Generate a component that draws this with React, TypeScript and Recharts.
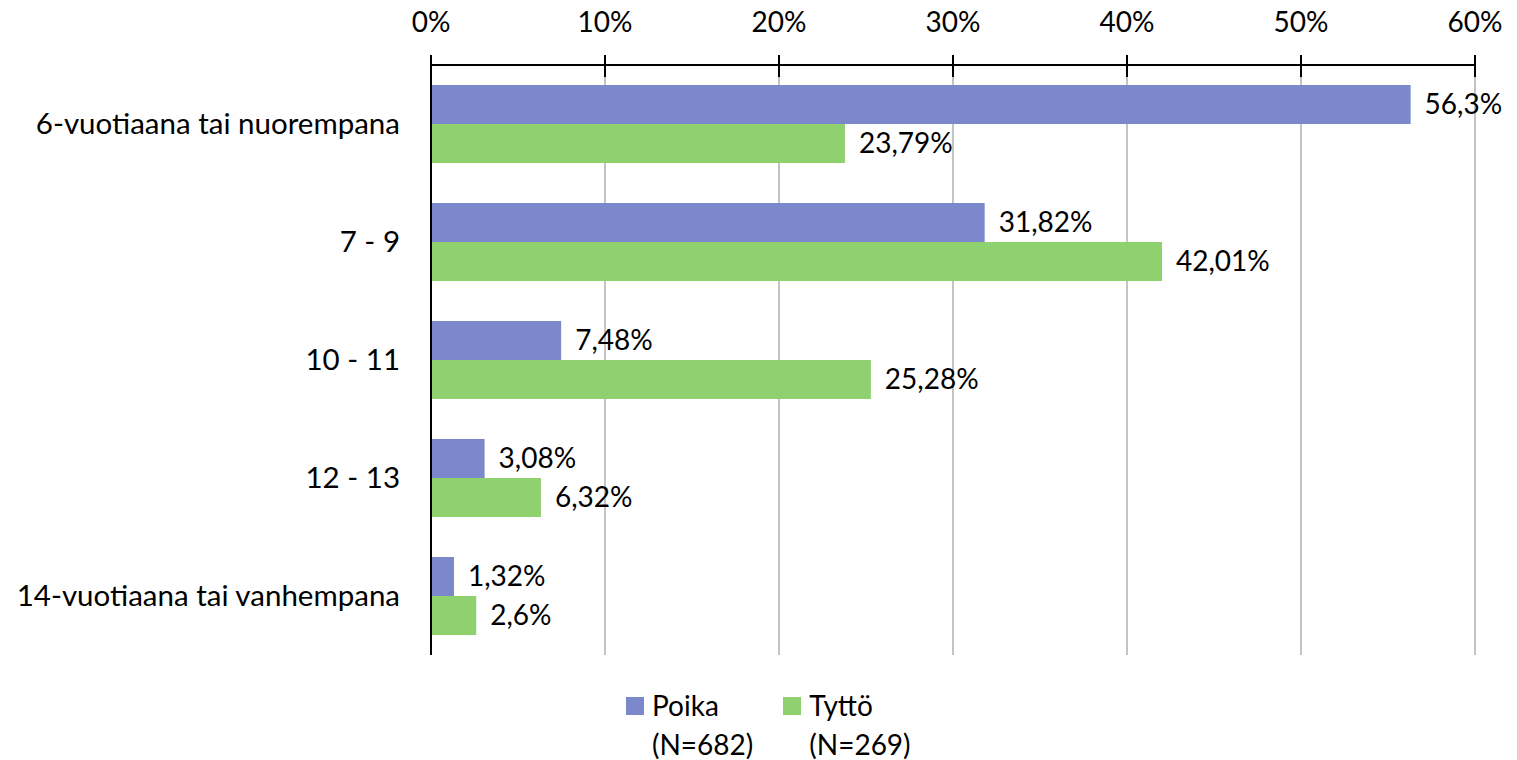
import { BarChart, Bar, XAxis, YAxis, CartesianGrid, LabelList } from 'recharts'

const categories = [
  '6-vuotiaana tai nuorempana',
  '7 - 9',
  '10 - 11',
  '12 - 13',
  '14-vuotiaana tai vanhempana',
]
const poika = [56.3, 31.82, 7.48, 3.08, 1.32]
const tytto = [23.79, 42.01, 25.28, 6.32, 2.6]
const xTicks = [0, 10, 20, 30, 40, 50, 60]
const seriesNames = [
  ['Poika', '(N=682)'],
  ['Tyttö', '(N=269)'],
]

const BLUE = '#7b89cc'
const GREEN = '#8fd06f'
const FONT = 'Lato, "Open Sans", sans-serif'

const data = categories.map((c, i) => ({ name: c, poika: poika[i], tytto: tytto[i] }))

const fmt = (v: number) => String(v).replace('.', ',') + '%'

function TopTick({ x, y, payload }: { x?: number; y?: number; payload?: { value: number } }) {
  const lineTop = (y ?? 0) + 23
  return (
    <g>
      <line x1={x} x2={x} y1={lineTop} y2={lineTop + 22} stroke="#000" strokeWidth={2} />
      <text x={x} y={y} textAnchor="middle" fontSize={28} fontFamily={FONT} fill="#000">
        {payload?.value}%
      </text>
    </g>
  )
}

function LegendBox() {
  const colors = [BLUE, GREEN]
  return (
    <div
      style={{
        position: 'absolute',
        left: 626,
        top: 686,
        display: 'flex',
        gap: 30,
        fontFamily: FONT,
        fontSize: 28,
        lineHeight: '39px',
        color: '#000',
      }}
    >
      {seriesNames.map((lines, i) => (
        <div key={i} style={{ display: 'flex', alignItems: 'flex-start' }}>
          <div style={{ width: 18, height: 18, background: colors[i], marginTop: 11, marginRight: 8 }} />
          <div>
            {lines.map((l) => (
              <div key={l}>{l}</div>
            ))}
          </div>
        </div>
      ))}
    </div>
  )
}

const labelStyle = { fontSize: 28, fontFamily: FONT, fill: '#000' }

export default function App() {
  return (
    <div style={{ position: 'absolute', left: 0, top: 0, width: 1517, height: 760, background: '#fff' }}>
      <BarChart
        width={1517}
        height={760}
        data={data}
        layout="vertical"
        margin={{ top: 0, right: 42, left: 0, bottom: 105 }}
        barGap={0}
        barSize={39}
      >
        <CartesianGrid horizontal={false} stroke="#c4c4c4" strokeWidth={2} />
        <XAxis
          type="number"
          orientation="top"
          domain={[0, 60]}
          ticks={xTicks}
          height={65}
          tickSize={10}
          tickMargin={23}
          tickLine={false}
          axisLine={{ stroke: '#000', strokeWidth: 2 }}
          tick={<TopTick />}
        />
        <YAxis
          type="category"
          dataKey="name"
          width={431}
          tickLine={false}
          tickSize={0}
          tickMargin={31}
          axisLine={{ stroke: '#000', strokeWidth: 2 }}
          tick={{ fontSize: 29.5, fontFamily: FONT, fill: '#000' }}
        />
        <Bar dataKey="poika" fill={BLUE} isAnimationActive={false}>
          <LabelList
            dataKey="poika"
            position="right"
            offset={14}
            formatter={(v: any) => fmt(v)}
            style={labelStyle}
          />
        </Bar>
        <Bar dataKey="tytto" fill={GREEN} isAnimationActive={false}>
          <LabelList
            dataKey="tytto"
            position="right"
            offset={14}
            formatter={(v: any) => fmt(v)}
            style={labelStyle}
          />
        </Bar>
      </BarChart>
      <LegendBox />
    </div>
  )
}
